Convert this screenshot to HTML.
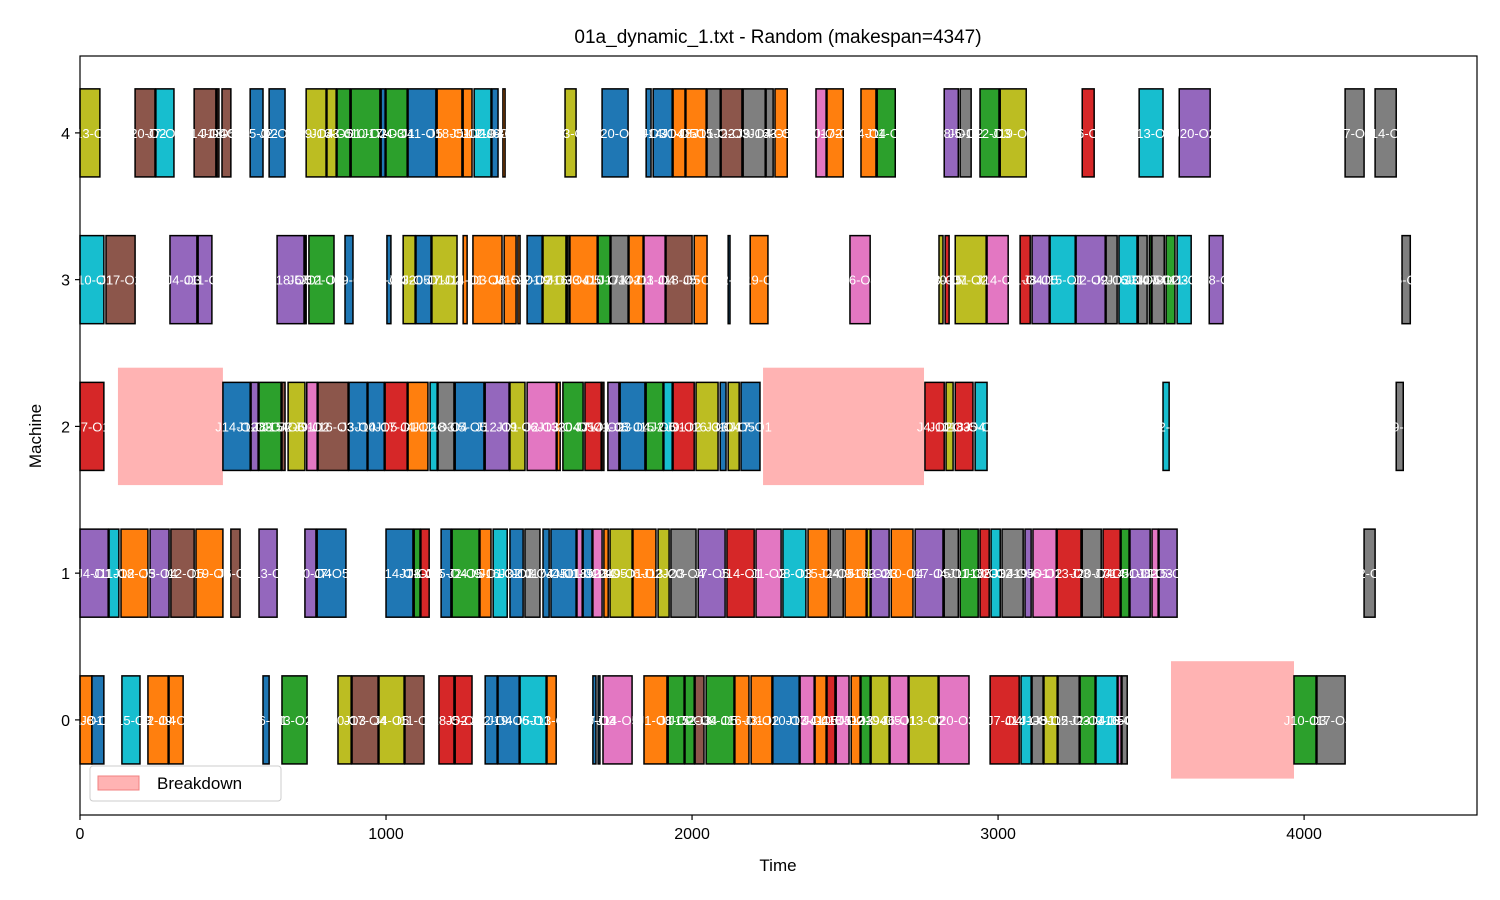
<!DOCTYPE html>
<html><head><meta charset="utf-8"><title>Gantt chart</title>
<style>
html,body{margin:0;padding:0;background:#fff;}
svg{display:block;font-family:"Liberation Sans","DejaVu Sans",sans-serif;}
</style></head>
<body>
<svg id="chart" width="1500" height="900" viewBox="0 0 1500 900" xmlns="http://www.w3.org/2000/svg">
<rect x="0" y="0" width="1500" height="900" fill="#fff"/>
<text x="778" y="43" text-anchor="middle" font-size="19" fill="#000">01a_dynamic_1.txt - Random (makespan=4347)</text>
<g id="plot"></g>
<text x="778" y="871" text-anchor="middle" font-size="17">Time</text>
<text x="0" y="0" transform="translate(41,436) rotate(-90)" text-anchor="middle" font-size="17">Machine</text>
</svg>
<script>
const xTicks = [0, 1000, 2000, 3000, 4000];
const machines = [0, 1, 2, 3, 4];
const breakdowns = [[2, 124, 467], [2, 2232, 2758], [0, 3565, 3967]];
const m0 = [[0,39,'o'],[39,78,'b'],[137,196,'c'],[222,288,'o'],[291,337,'o'],[598,618,'b'],[660,742,'g'],[843,886,'y'],[889,974,'n'],[977,1059,'y'],[1062,1124,'n'],[1173,1222,'r'],[1226,1281,'r'],[1324,1363,'b'],[1366,1435,'b'],[1438,1523,'c'],[1526,1556,'o'],[1676,1686,'b'],[1693,1699,'b'],[1709,1804,'p'],[1843,1918,'o'],[1922,1974,'g'],[1977,2007,'g'],[2010,2039,'n'],[2046,2137,'g'],[2140,2186,'o'],[2193,2261,'o'],[2264,2350,'b'],[2353,2399,'p'],[2402,2438,'o'],[2441,2467,'r'],[2471,2513,'p'],[2520,2549,'o'],[2552,2582,'g'],[2585,2644,'y'],[2647,2706,'p'],[2709,2804,'y'],[2807,2905,'p'],[2974,3069,'r'],[3075,3108,'c'],[3111,3147,'k'],[3150,3193,'y'],[3196,3265,'k'],[3268,3317,'g'],[3320,3389,'c'],[3392,3402,'p'],[3405,3422,'k'],[3967,4039,'g'],[4042,4134,'k']];
const m1 = [[0,92,'v'],[95,127,'c'],[134,222,'o'],[229,291,'v'],[297,373,'n'],[379,467,'o'],[493,523,'n'],[585,644,'v'],[735,771,'v'],[775,869,'b'],[1000,1088,'b'],[1092,1111,'g'],[1114,1141,'r'],[1180,1212,'b'],[1216,1304,'g'],[1307,1343,'o'],[1350,1396,'c'],[1405,1448,'b'],[1454,1503,'k'],[1513,1533,'b'],[1539,1621,'b'],[1624,1641,'p'],[1644,1673,'b'],[1676,1706,'p'],[1712,1726,'o'],[1732,1804,'y'],[1807,1882,'o'],[1889,1925,'y'],[1931,2013,'k'],[2020,2108,'v'],[2114,2203,'r'],[2209,2291,'p'],[2297,2372,'c'],[2379,2445,'o'],[2451,2494,'k'],[2500,2569,'o'],[2572,2582,'y'],[2585,2644,'v'],[2651,2722,'o'],[2729,2820,'v'],[2824,2870,'k'],[2876,2935,'g'],[2941,2971,'r'],[2977,3007,'c'],[3013,3082,'k'],[3088,3108,'v'],[3114,3190,'p'],[3193,3271,'r'],[3275,3337,'k'],[3343,3399,'r'],[3402,3428,'g'],[3431,3497,'v'],[3503,3523,'p'],[3526,3585,'v'],[4196,4232,'k']];
const m2 = [[0,78,'r'],[467,556,'b'],[559,582,'v'],[585,657,'g'],[660,670,'n'],[680,735,'y'],[741,775,'p'],[778,876,'n'],[879,938,'b'],[941,994,'b'],[997,1069,'r'],[1072,1137,'o'],[1144,1167,'c'],[1170,1222,'k'],[1226,1320,'b'],[1324,1402,'v'],[1405,1454,'y'],[1461,1556,'p'],[1559,1569,'o'],[1578,1644,'g'],[1650,1703,'r'],[1706,1712,'n'],[1725,1761,'v'],[1765,1846,'b'],[1850,1905,'g'],[1908,1935,'c'],[1938,2007,'r'],[2013,2085,'y'],[2092,2111,'b'],[2118,2154,'y'],[2160,2222,'b'],[2761,2824,'r'],[2830,2853,'y'],[2860,2918,'r'],[2925,2964,'c'],[3539,3559,'c'],[4301,4324,'k']];
const m3 = [[0,78,'c'],[85,180,'n'],[294,382,'v'],[386,431,'v'],[644,732,'v'],[735,739,'b'],[748,830,'g'],[866,892,'b'],[1003,1016,'b'],[1056,1095,'y'],[1098,1147,'b'],[1150,1232,'y'],[1252,1265,'o'],[1284,1379,'o'],[1386,1425,'o'],[1431,1438,'o'],[1461,1510,'b'],[1513,1588,'y'],[1592,1598,'k'],[1601,1690,'o'],[1693,1732,'g'],[1735,1791,'k'],[1794,1840,'o'],[1843,1912,'p'],[1915,2000,'n'],[2007,2049,'o'],[2118,2124,'b'],[2190,2248,'o'],[2516,2582,'p'],[2807,2820,'y'],[2827,2840,'r'],[2860,2961,'y'],[2964,3033,'p'],[3072,3105,'r'],[3111,3167,'v'],[3170,3252,'c'],[3255,3350,'v'],[3353,3389,'k'],[3395,3454,'c'],[3458,3487,'k'],[3494,3500,'g'],[3503,3543,'k'],[3549,3578,'g'],[3585,3631,'c'],[3690,3735,'v'],[4320,4347,'k']];
const m4 = [[0,65,'y'],[180,245,'n'],[248,307,'c'],[373,444,'n'],[448,454,'n'],[464,493,'n'],[556,598,'b'],[618,670,'b'],[739,804,'y'],[807,837,'y'],[840,882,'g'],[886,980,'g'],[984,997,'b'],[1000,1069,'g'],[1072,1163,'b'],[1167,1248,'o'],[1252,1281,'o'],[1288,1343,'c'],[1346,1366,'b'],[1382,1389,'o'],[1585,1621,'y'],[1706,1791,'b'],[1850,1866,'b'],[1873,1935,'b'],[1938,1977,'o'],[1980,2046,'o'],[2049,2092,'k'],[2095,2163,'n'],[2167,2239,'k'],[2242,2265,'k'],[2271,2311,'o'],[2405,2438,'p'],[2441,2494,'o'],[2552,2601,'o'],[2605,2664,'g'],[2824,2870,'v'],[2876,2912,'k'],[2941,3003,'g'],[3007,3092,'y'],[3275,3314,'r'],[3461,3539,'c'],[3592,3693,'v'],[4134,4196,'k'],[4232,4301,'k']];
const rows = [m0, m1, m2, m3, m4];

const PAL = {b:'#1f77b4',o:'#ff7f0e',g:'#2ca02c',r:'#d62728',v:'#9467bd',n:'#8c564b',p:'#e377c2',k:'#7f7f7f',y:'#bcbd22',c:'#17becf'};
const L = 80, R = 1477, T = 56, B = 815;
const X0 = 0, X1 = 4565, Y0 = -0.648, Y1 = 4.524;
function sx(t){ return L + (t - X0) / (X1 - X0) * (R - L); }
function sy(v){ return B - (v - Y0) / (Y1 - Y0) * (B - T); }
const NS = 'http://www.w3.org/2000/svg';
const plot = document.getElementById('plot');
function mk(tag, attrs, parent){ const e = document.createElementNS(NS, tag); for (const k in attrs) e.setAttribute(k, attrs[k]); (parent||plot).appendChild(e); return e; }

breakdowns.forEach(function(bd){
  const r = mk('rect', {x: sx(bd[1]), y: sy(bd[0] + 0.4), width: sx(bd[2]) - sx(bd[1]), height: sy(bd[0] - 0.4) - sy(bd[0] + 0.4), fill: '#ffb3b3'});
  
  
});
rows.forEach(function(row, m){
  row.forEach(function(bar, i){
    const x0 = sx(bar[0]), x1 = sx(bar[1]);
    const y0 = sy(m + 0.3), y1 = sy(m - 0.3);
    const r = mk('rect', {x: x0, y: y0, width: Math.max(x1 - x0, 0.5), height: y1 - y0, fill: PAL[bar[2]], stroke: '#000', 'stroke-width': 1.5});
    
    
  });
});
rows.forEach(function(row, m){
  row.forEach(function(bar, i){
    const t = mk('text', {x: (sx(bar[0]) + sx(bar[1])) / 2, y: sy(m) + 5, 'text-anchor': 'middle', 'font-size': 13, fill: '#fff'});
    t.textContent = 'J' + ((i * 7 + m * 3) % 20 + 1) + '-O' + (i % 5 + 1);
    
    
  });
});
const fr = mk('rect', {x: L, y: T, width: R - L, height: B - T, fill: 'none', stroke: '#000', 'stroke-width': 1.2});


xTicks.forEach(function(v){
  const x = sx(v);
  const tk = mk('line', {x1: x, y1: B, x2: x, y2: B + 5, stroke: '#000', 'stroke-width': 1.2});
  
  
  const tl = mk('text', {x: x, y: B + 24, 'text-anchor': 'middle', 'font-size': 16});
  tl.textContent = v;
  
  
});
machines.forEach(function(v){
  const y = sy(v);
  const tk = mk('line', {x1: L - 5, y1: y, x2: L, y2: y, stroke: '#000', 'stroke-width': 1.2});
  
  
  const tl = mk('text', {x: L - 10, y: y + 6, 'text-anchor': 'end', 'font-size': 16});
  tl.textContent = v;
  
  
});
const lg = mk('g', {});


const lb = mk('rect', {x: 90, y: 766, width: 191, height: 35, rx: 3, fill: '#fff', 'fill-opacity': 0.8, stroke: '#ccc'}, lg);


const lp = mk('rect', {x: 98, y: 776, width: 41, height: 14, fill: '#ffb3b3', stroke: '#f08080'}, lg);


const lt = mk('text', {x: 157, y: 789, 'font-size': 17}, lg);
lt.textContent = 'Breakdown';


</script>
</body></html>
